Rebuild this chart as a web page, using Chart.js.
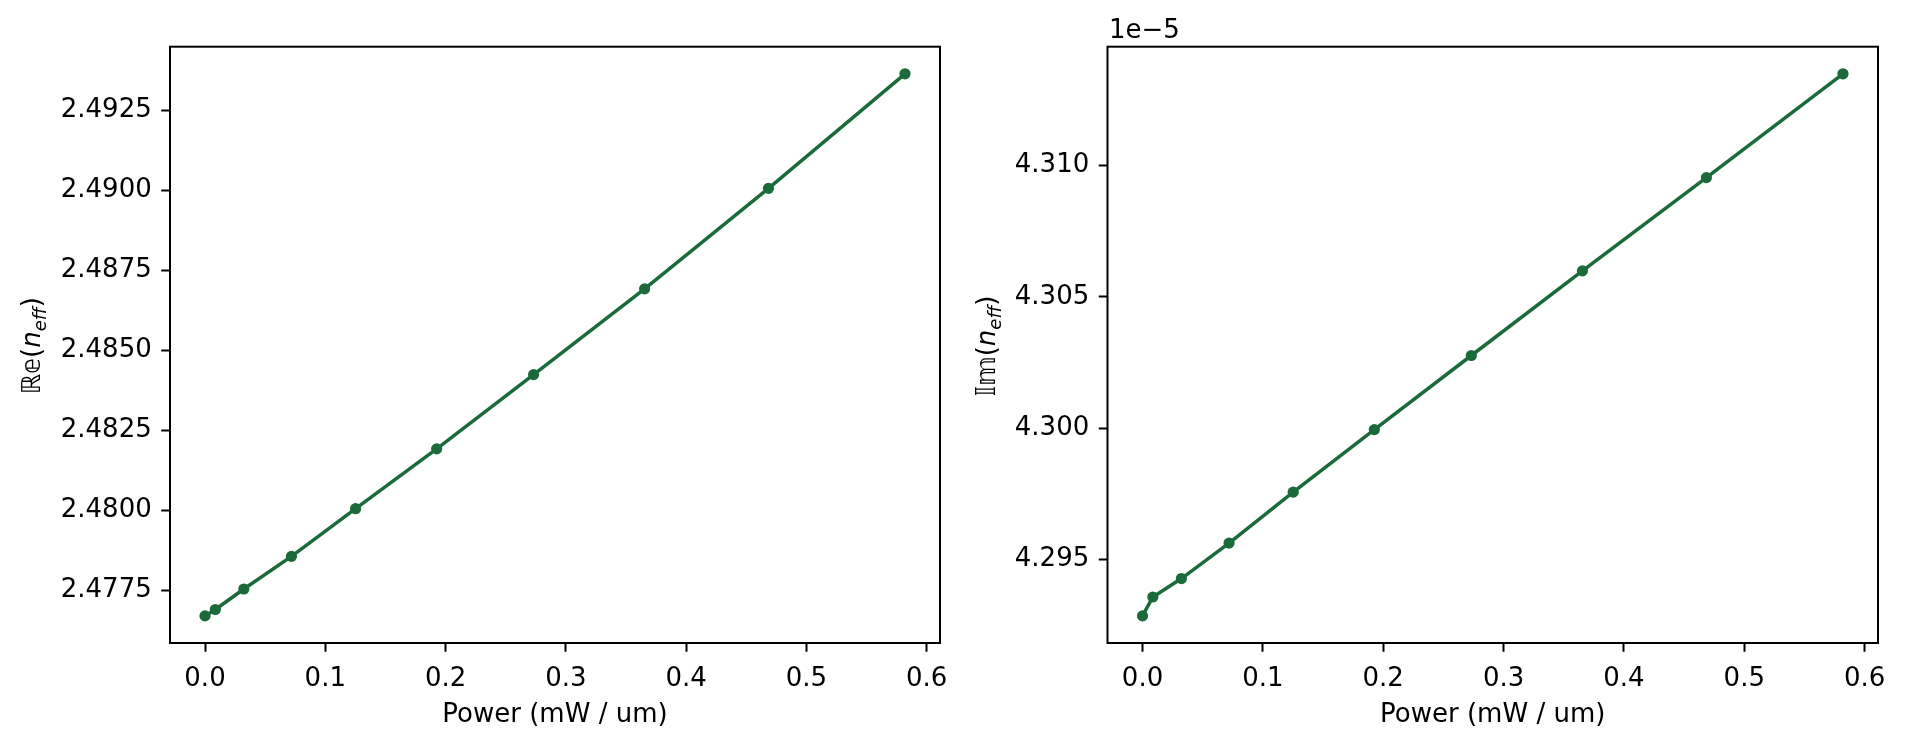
<!DOCTYPE html>
<html>
<head>
<meta charset="utf-8">
<script src="https://cdn.jsdelivr.net/npm/chart.js@4.4.1/dist/chart.umd.min.js"></script>
<style>
  html, body { margin: 0; padding: 0; background: #fff; }
  #wrap { position: relative; width: 1905px; height: 747px; }
  canvas { position: absolute; top: 0; }
</style>
</head>
<body>
<div id="wrap">
  <canvas id="reChart" width="960" height="747" style="left:0px"></canvas>
  <canvas id="imChart" width="945" height="747" style="left:960px"></canvas>
</div>
<script>
// power sweep (mW / um) and effective index
const power = [0, 0.0086, 0.0323, 0.0719, 0.1252, 0.1926, 0.2732, 0.3655, 0.4685, 0.5820]
const reNeff = [2.47671, 2.47691, 2.47755, 2.47857, 2.48006, 2.48193, 2.48425, 2.48693, 2.49007, 2.49365]
const imNeff = [4.29286e-5, 4.29358e-5, 4.29428e-5, 4.29563e-5, 4.29757e-5, 4.29995e-5, 4.30277e-5, 4.30599e-5, 4.30954e-5, 4.31349e-5]

const powerTicks = [0, 0.1, 0.2, 0.3, 0.4, 0.5, 0.6]
const reTicks = [2.4775, 2.4800, 2.4825, 2.4850, 2.4875, 2.4900, 2.4925]
const imTicks = [4.295e-5, 4.300e-5, 4.305e-5, 4.310e-5]

const LINE = "#1b6b3a"
const FONT = "'DejaVu Sans', sans-serif"
const FS = 26

// matplotlib-like 5% margins
function padded(arr) {
  const lo = Math.min(...arr), hi = Math.max(...arr), m = (hi - lo) * 0.05
  return { min: lo - m, max: hi + m }
}

function drawYLabel(ctx, x, y, head) {
  const parts = [
    { t: head, f: `${FS}px ${FONT}`, dy: 0 },
    { t: "(", f: `${FS}px ${FONT}`, dy: 0 },
    { t: "n", f: `italic ${FS}px ${FONT}`, dy: 0 },
    { t: "eff", f: `italic ${Math.round(FS * 0.7)}px ${FONT}`, dy: FS * 0.22 },
    { t: ")", f: `${FS}px ${FONT}`, dy: 0 }
  ]
  ctx.save()
  ctx.translate(x, y)
  ctx.rotate(-Math.PI / 2)
  ctx.fillStyle = "#000"
  ctx.textBaseline = "alphabetic"
  ctx.textAlign = "left"
  let total = 0
  parts.forEach(p => { ctx.font = p.f; p.w = ctx.measureText(p.t).width; total += p.w })
  let cx = -total / 2
  parts.forEach(p => { ctx.font = p.f; ctx.fillText(p.t, cx, p.dy); cx += p.w })
  ctx.restore()
}

function makeChart(id, values, yTicks, fmt, o) {
  const xr = padded(power)
  const yr = padded(values)
  const frame = {
    id: "frame",
    afterDraw(chart) {
      const { ctx, chartArea: a } = chart
      ctx.save()
      ctx.strokeStyle = "#000"
      ctx.lineWidth = 2
      ctx.strokeRect(a.left, a.top, a.right - a.left, a.bottom - a.top)
      ctx.fillStyle = "#000"
      ctx.font = `${FS}px ${FONT}`
      ctx.textAlign = "center"
      ctx.textBaseline = "alphabetic"
      ctx.fillText("Power (mW / um)", (a.left + a.right) / 2, 722)
      if (o.offsetText) {
        ctx.textAlign = "left"
        ctx.fillText(o.offsetText, a.left + 1.5, 38)
      }
      ctx.restore()
      drawYLabel(ctx, o.labelX, (a.top + a.bottom) / 2 + 1, o.head)
    }
  }
  return new Chart(document.getElementById(id), {
    type: "line",
    data: {
      datasets: [{
        data: power.map((p, i) => ({ x: p, y: values[i] })),
        borderColor: LINE,
        backgroundColor: LINE,
        borderWidth: 3.5,
        pointRadius: 5.6,
        pointBorderWidth: 0,
        tension: 0
      }]
    },
    options: {
      responsive: false,
      animation: false,
      devicePixelRatio: 1,
      layout: { padding: { top: 46.7, right: o.rightPad, left: 0, bottom: 0 } },
      plugins: { legend: { display: false }, tooltip: { enabled: false } },
      scales: {
        x: {
          type: "linear",
          min: xr.min,
          max: xr.max,
          afterFit: s => { s.height = 104 },
          afterBuildTicks: s => { s.ticks = powerTicks.map(v => ({ value: v })) },
          grid: { drawOnChartArea: false, drawTicks: true, tickLength: 8.75, tickWidth: 2, tickColor: "#000" },
          border: { display: false },
          ticks: {
            padding: 12,
            color: "#000",
            maxRotation: 0,
            autoSkip: false,
            font: { family: FONT, size: FS },
            callback: v => v.toFixed(1)
          }
        },
        y: {
          type: "linear",
          min: yr.min,
          max: yr.max,
          afterFit: s => { s.width = o.yWidth },
          afterBuildTicks: s => { s.ticks = yTicks.map(v => ({ value: v })) },
          grid: { drawOnChartArea: false, drawTicks: true, tickLength: 8.75, tickWidth: 2, tickColor: "#000" },
          border: { display: false },
          ticks: {
            padding: 9.5,
            color: "#000",
            autoSkip: false,
            font: { family: FONT, size: FS },
            callback: fmt
          }
        }
      }
    },
    plugins: [frame]
  })
}

makeChart("reChart", reNeff, reTicks, v => v.toFixed(4),
  { yWidth: 170, rightPad: 20, labelX: 40, head: "\u211D\uD835\uDD56" })

makeChart("imChart", imNeff, imTicks, v => (v / 1e-5).toFixed(3),
  { yWidth: 147.5, rightPad: 27, labelX: 35, head: "\uD835\uDD40\uD835\uDD5E", offsetText: "1e\u22125" })
</script>
</body>
</html>
